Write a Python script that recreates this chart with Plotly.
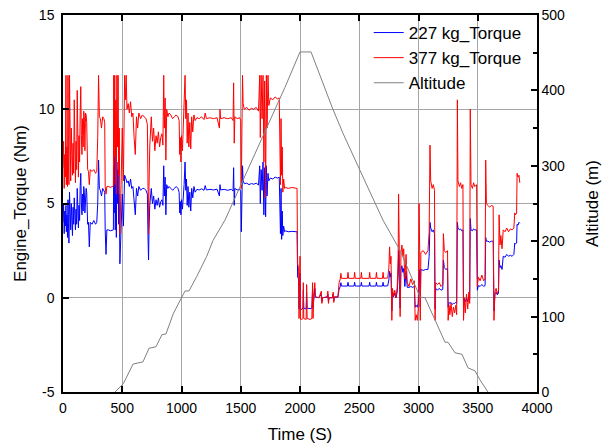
import plotly.graph_objects as go

# ---------------- data ----------------
time_s = [0, 5, 10, 15, 20, 25, 28, 33, 38, 42, 46, 50, 55, 60, 65, 70, 75, 80, 85, 90,
          95, 100, 105, 110, 115, 120, 125, 130, 135, 140, 145, 150, 155, 160, 165, 170, 175, 180, 185, 190,
          195, 200, 208, 215, 222, 230, 245, 260, 275, 285, 293, 300, 307, 315, 325, 335, 345, 352, 356, 363,
          370, 385, 400, 415, 425, 428, 432, 437, 441, 446, 450, 455, 460, 465, 470, 475, 480, 490, 500, 510,
          520, 527, 533, 540, 550, 560, 570, 580, 590, 600, 610, 620, 630, 640, 655, 670, 685, 700, 712, 718,
          722, 726, 732, 745, 755, 765, 775, 785, 795, 805, 815, 825, 835, 843, 850, 855, 862, 868, 875, 885,
          895, 910, 925, 940, 955, 970, 980, 985, 990, 995, 1000, 1008, 1015, 1022, 1030, 1036, 1042, 1048, 1055, 1062,
          1070, 1078, 1086, 1095, 1105, 1115, 1130, 1150, 1170, 1190, 1200, 1210, 1240, 1270, 1300, 1320, 1325, 1330, 1360, 1390,
          1420, 1435, 1440, 1445, 1450, 1470, 1490, 1500, 1505, 1510, 1515, 1520, 1530, 1550, 1570, 1590, 1610, 1630, 1650, 1660,
          1665, 1672, 1680, 1688, 1695, 1702, 1710, 1716, 1722, 1730, 1737, 1750, 1770, 1790, 1810, 1825, 1835, 1840, 1845, 1850,
          1855, 1862, 1870, 1880, 1900, 1930, 1960, 1975, 1980, 1988, 1992, 2000, 2005, 2015, 2025, 2028, 2032, 2052, 2056, 2060,
          2085, 2100, 2106, 2110, 2115, 2125, 2130, 2160, 2180, 2185, 2190, 2230, 2235, 2240, 2245, 2275, 2280, 2285, 2290, 2320,
          2330, 2340, 2345, 2350, 2400, 2405, 2410, 2456, 2461, 2466, 2513, 2518, 2523, 2583, 2588, 2593, 2640, 2645, 2650, 2696,
          2701, 2706, 2740, 2750, 2756, 2762, 2768, 2775, 2780, 2790, 2800, 2810, 2820, 2828, 2832, 2838, 2845, 2852, 2860, 2868,
          2875, 2885, 2895, 2905, 2920, 2935, 2950, 2965, 2972, 2980, 2990, 2998, 3005, 3010, 3015, 3020, 3040, 3060, 3080, 3090,
          3097, 3103, 3115, 3125, 3135, 3140, 3145, 3160, 3175, 3190, 3205, 3210, 3218, 3230, 3245, 3250, 3258, 3265, 3275, 3285,
          3295, 3305, 3315, 3322, 3328, 3333, 3345, 3355, 3365, 3375, 3380, 3388, 3395, 3405, 3415, 3425, 3432, 3437, 3443, 3455,
          3465, 3475, 3490, 3497, 3505, 3520, 3535, 3550, 3562, 3567, 3573, 3585, 3600, 3615, 3630, 3637, 3645, 3655, 3665, 3675,
          3680, 3688, 3695, 3705, 3715, 3730, 3745, 3760, 3775, 3790, 3805, 3812, 3820, 3828, 3832, 3840, 3848, 3855]

torque_227 = [4.0, 5.0, 3.4, 4.6, 3.8, 4.9, 3.5, 4.4, 3.2, 5.2, 4.0, 2.9, 5.6, 4.3, 3.6, 5.0, 4.0, 3.3, 4.8, 3.9,
              5.3, 4.2, 3.6, 4.7, 3.9, 5.8, 4.3, 3.7, 4.9, 4.1, 5.9, 6.6, 5.0, 4.4, 5.5, 4.6, 5.9, 5.6, 4.5, 5.7,
              5.8, 5.6, 3.9, 4.0, 2.7, 4.0, 3.9, 4.1, 3.9, 4.0, 5.0, 7.3, 5.8, 5.7, 5.4, 5.8, 5.7, 5.6, 3.6, 2.3,
              3.6, 3.6, 3.55, 3.6, 3.6, 7.0, 4.5, 7.5, 3.6, 6.3, 3.2, 7.2, 5.0, 6.8, 3.9, 5.5, 1.8, 3.6, 5.5, 3.8,
              6.5, 6.4, 6.3, 6.1, 6.2, 5.9, 6.3, 5.8, 5.9, 5.0, 4.4, 5.8, 5.4, 5.9, 5.7, 5.8, 5.8, 5.7, 5.5, 3.0,
              2.0, 3.6, 4.9, 5.8, 5.0, 5.4, 4.7, 5.2, 4.9, 5.3, 4.8, 5.1, 5.2, 4.9, 7.0, 5.4, 6.4, 4.4, 6.0, 5.8,
              5.9, 5.8, 5.7, 5.8, 5.9, 5.8, 5.6, 4.5, 5.1, 4.4, 5.2, 4.7, 5.3, 6.0, 7.2, 5.7, 6.3, 4.9, 5.9, 4.8,
              5.6, 4.6, 5.8, 5.3, 5.9, 5.6, 5.75, 5.72, 5.78, 5.7, 5.95, 5.72, 5.75, 5.72, 5.76, 5.4, 6.0, 5.72, 5.75, 5.7,
              5.75, 5.66, 6.9, 4.9, 5.8, 5.72, 5.75, 5.65, 3.5, 5.4, 7.0, 6.2, 6.05, 6.08, 6.0, 6.06, 6.02, 6.08, 5.98, 7.0,
              5.0, 6.8, 5.7, 7.2, 4.4, 6.9, 4.3, 7.0, 5.4, 6.6, 6.2, 6.35, 6.3, 6.4, 6.35, 6.4, 3.4, 5.8, 3.1, 4.6,
              3.3, 3.8, 3.5, 3.55, 3.5, 3.52, 3.5, 3.5, 1.1, 1.0, -0.6, 1.3, -0.65, -0.6, -0.55, 0.4, -0.55, -0.6, 0.3, -0.55,
              -0.58, -0.55, 0.4, -0.55, 0.03, 0.5, 0.03, 0.0, 0.2, -0.2, 0.0, 0.03, 0.2, -0.2, 0.0, 0.0, 0.2, -0.15, 0.03, 0.03,
              0.45, 0.6, 0.8, 0.62, 0.62, 0.82, 0.62, 0.62, 0.82, 0.62, 0.62, 0.82, 0.62, 0.62, 0.82, 0.62, 0.62, 0.82, 0.62, 0.62,
              0.82, 0.62, 0.63, 0.95, 1.4, 1.1, 1.3, -0.7, 0.3, 0.06, 0.24, 0.0, 0.3, 1.2, 2.5, 1.5, -0.55, 1.45, 1.7, 1.35,
              1.55, 0.6, 1.4, 0.55, 0.55, 0.6, 0.55, 0.6, -0.5, -0.4, -0.5, -0.3, 1.5, 1.5, -0.5, 1.5, 1.45, 1.5, 1.5, 2.2,
              4.0, 3.7, 3.5, 3.6, 3.4, -0.6, 0.5, 0.4, 0.5, 0.4, 0.45, 2.0, 1.6, 1.5, 1.55, -0.5, -0.25, -0.3, -0.25, -0.35,
              -0.3, -0.3, -0.25, -0.3, 4.0, 3.7, 3.6, 3.65, 3.55, 3.6, -0.5, -0.1, -0.2, 0.0, -0.2, 0.1, -0.1, 4.2, 3.6, 3.55,
              3.65, 3.6, 3.6, 0.4, 0.65, 0.6, 0.7, 0.6, 0.65, 3.2, 3.0, 3.0, 2.95, 3.0, 3.0, -0.7, 0.2, 0.3, 0.15, 0.25,
              2.0, 1.6, 1.7, 1.5, 2.2, 2.15, 2.3, 2.2, 2.25, 2.2, 2.3, 2.9, 2.85, 2.9, 3.9, 3.85, 4.0, 3.95]

torque_377 = [6.9, 8.3, 5.8, 7.6, 6.4, 11.8, 6.0, 8.0, 5.9, 11.8, 7.0, 6.0, 11.8, 7.4, 6.2, 9.0, 7.0, 6.5, 8.2, 6.6,
              10.5, 7.2, 6.1, 8.3, 6.8, 11.0, 7.4, 6.4, 8.6, 7.2, 9.8, 11.2, 8.6, 7.6, 9.5, 8.0, 9.9, 9.6, 7.8, 9.8,
              9.7, 9.3, 6.8, 6.7, 6.0, 6.8, 6.7, 6.8, 6.6, 6.7, 8.5, 11.8, 9.6, 9.5, 9.0, 9.6, 9.5, 9.3, 5.9, 5.5,
              5.9, 5.9, 5.85, 5.9, 5.9, 11.8, 7.5, 11.8, 6.0, 10.5, 5.5, 11.8, 8.0, 11.8, 6.5, 9.0, 3.4, 6.0, 9.0, 6.2,
              11.8, 10.5, 11.8, 10.0, 10.3, 9.8, 10.4, 9.6, 9.8, 8.5, 7.6, 9.6, 9.0, 9.8, 9.5, 9.7, 9.6, 9.5, 9.2, 5.2,
              3.4, 5.9, 8.0, 9.6, 8.3, 9.0, 7.8, 8.6, 8.2, 8.8, 8.0, 8.5, 8.7, 8.1, 11.8, 9.0, 10.6, 7.3, 10.0, 9.6,
              9.8, 9.7, 9.5, 9.6, 9.7, 9.6, 9.4, 7.6, 8.5, 7.2, 8.6, 7.8, 8.8, 9.9, 11.8, 9.5, 10.5, 8.2, 9.8, 8.0,
              9.3, 7.9, 9.6, 8.8, 9.7, 9.4, 9.55, 9.5, 9.6, 9.45, 9.8, 9.5, 9.55, 9.5, 9.55, 9.0, 10.0, 9.5, 9.55, 9.5,
              9.55, 9.4, 11.4, 8.2, 9.6, 9.5, 9.55, 9.4, 5.8, 9.0, 11.8, 10.3, 10.0, 10.1, 9.95, 10.05, 10.0, 10.1, 9.9, 11.8,
              8.5, 11.8, 9.5, 11.8, 7.2, 11.5, 5.3, 11.8, 9.0, 11.8, 10.2, 10.6, 10.5, 10.65, 10.55, 10.6, 6.0, 9.5, 6.5, 8.0,
              5.6, 6.3, 5.8, 5.85, 5.8, 5.85, 5.8, 5.8, 1.8, 1.6, -1.1, 2.2, -1.15, -1.15, -1.1, 0.8, -1.1, -1.15, 0.7, -1.1,
              -1.15, -1.1, 0.8, -1.1, 0.05, 0.8, 0.05, 0.0, 0.35, -0.3, 0.0, 0.05, 0.35, -0.3, 0.0, 0.0, 0.3, -0.25, 0.05, 0.05,
              0.8, 1.0, 1.3, 1.03, 1.03, 1.35, 1.03, 1.03, 1.35, 1.03, 1.03, 1.35, 1.03, 1.03, 1.35, 1.03, 1.03, 1.35, 1.03, 1.03,
              1.35, 1.03, 1.05, 1.6, 2.7, 1.8, 2.2, -1.2, 0.5, 0.1, 0.4, 0.0, 0.5, 2.0, 5.5, 2.5, -1.0, 2.4, 2.8, 2.2,
              2.6, 1.0, 2.3, 0.8, 0.6, 1.0, 0.7, 0.9, -1.2, -0.9, -1.2, -0.6, 5.0, 2.5, -1.2, 2.4, 2.5, 2.3, 2.5, 3.5,
              8.1, 6.2, 5.8, 6.0, 5.7, -1.2, 0.8, 0.7, 0.8, 0.6, 0.7, 3.4, 2.5, 2.4, 2.5, -1.2, -0.4, -0.9, -0.3, -1.0,
              -0.5, -0.8, -0.4, -0.9, 10.5, 6.2, 5.9, 6.1, 5.8, 6.0, -1.2, 0.0, -0.8, 0.2, -0.6, 0.3, -0.3, 10.0, 6.0, 5.8,
              6.1, 5.9, 6.0, 0.6, 1.1, 0.9, 1.2, 0.9, 1.0, 7.3, 5.0, 4.9, 4.8, 4.9, 4.85, -1.2, 0.3, 0.5, 0.2, 0.4,
              4.4, 2.8, 3.3, 2.6, 3.6, 3.5, 3.7, 3.5, 3.65, 3.6, 3.7, 4.5, 4.4, 4.5, 6.6, 6.4, 6.5, 6.1]

alt_time = [439, 509, 591, 636, 675, 726, 785, 835, 869, 931, 1004, 1030, 1063, 1128, 1213, 1266, 1367,
            1873, 2000, 2093, 2270, 2363, 2506, 2700, 2844, 3013, 3055, 3224, 3249, 3308, 3367, 3418, 3477,
            3519, 3586]
altitude_m = [0, 11, 37, 39, 40, 58, 60, 76, 77, 104, 126, 134, 134, 153, 180, 201, 228,
              404, 451, 451, 378, 343, 294, 228, 188, 126, 125, 66, 66, 52, 50, 32, 28,
              16, 0]

torque_tick_vals = [-5, 0, 5, 10, 15]
torque_tick_text = ["-5", "0", "5", "10", "15"]

# ---------------- figure ----------------
FONT = "Liberation Sans, Arial, sans-serif"

fig = go.Figure()
fig.add_trace(go.Scatter(x=time_s, y=torque_227, mode="lines", name="227 kg_Torque",
                         line=dict(color="#0000ff", width=1)))
fig.add_trace(go.Scatter(x=time_s, y=torque_377, mode="lines", name="377 kg_Torque",
                         line=dict(color="#ff0000", width=1)))
fig.add_trace(go.Scatter(x=alt_time, y=altitude_m, mode="lines", name="Altitude",
                         line=dict(color="#808080", width=1), yaxis="y2"))

fig.update_layout(
    width=603, height=447, autosize=False,
    margin=dict(l=63, r=66, t=15, b=55, autoexpand=False),
    paper_bgcolor="white", plot_bgcolor="white",
    font=dict(family=FONT, color="black", size=14),
    showlegend=True,
    legend=dict(x=0.645, y=1.0, xanchor="left", yanchor="top",
                bgcolor="rgba(0,0,0,0)", font=dict(size=17, family=FONT),
                tracegroupgap=0),
    xaxis=dict(range=[0, 4000], dtick=500, tick0=0, automargin=False,
               showline=True, linecolor="black", linewidth=1.5, mirror="ticks",
               ticks="inside", ticklen=6, tickcolor="black", tickwidth=1.5,
               showgrid=True, gridcolor="#a6a6a6", gridwidth=1, zeroline=False,
               tickfont=dict(size=14), ticklabelstandoff=2,
               title=dict(text="Time (S)", font=dict(size=17), standoff=14)),
    yaxis=dict(range=[-5, 15], tickmode="array", tickvals=torque_tick_vals, ticktext=torque_tick_text,
               automargin=False,
               showline=True, linecolor="black", linewidth=1.5,
               ticks="inside", ticklen=6, tickcolor="black", tickwidth=1.5,
               showgrid=True, gridcolor="#a6a6a6", gridwidth=1, zeroline=False,
               tickfont=dict(size=14), ticklabelstandoff=4,
               title=dict(text="Engine_Torque (Nm)", font=dict(size=17), standoff=8)),
    yaxis2=dict(range=[0, 500], dtick=100, tick0=0, overlaying="y", side="right", automargin=False,
                showline=True, linecolor="black", linewidth=1.5,
                ticks="inside", ticklen=6, tickcolor="black", tickwidth=1.5,
                minor=dict(dtick=50, ticks="inside", ticklen=4, tickcolor="black", tickwidth=1.5),
                showgrid=False, zeroline=False,
                tickfont=dict(size=14),
                title=dict(text="Altitude (m)", font=dict(size=17), standoff=22)),
)

fig.write_html("out.html", config={"displayModeBar": False},
               post_script="document.body.style.margin='0';")
